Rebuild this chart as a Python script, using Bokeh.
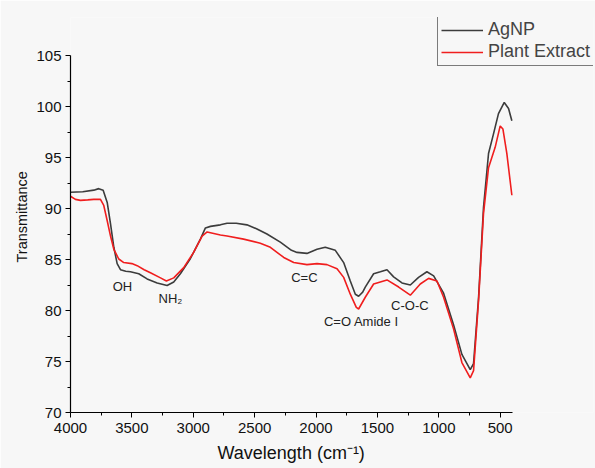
from bokeh.plotting import figure
from bokeh.models import (ColumnDataSource, Range1d, Legend, LegendItem,
                          FixedTicker, Title)
from bokeh.core.properties import value
from bokeh.embed import file_html
from bokeh.resources import INLINE

# ---- data ----
agnp_wn = [4000, 3900, 3810, 3770, 3734, 3701, 3674, 3647, 3620, 3593, 3550,
           3512, 3444, 3376, 3294, 3213, 3159, 3105, 3023, 2942, 2901, 2860,
           2779, 2725, 2650, 2563, 2481, 2400, 2291, 2200, 2155, 2074, 1992,
           1925, 1843, 1775, 1721, 1680, 1653, 1620, 1599, 1531, 1476, 1422,
           1368, 1300, 1232, 1165, 1097, 1042, 961, 880, 812, 744, 717, 676,
           636, 595, 555, 514, 467, 432, 405]
agnp_t = [91.6, 91.65, 91.8, 91.95, 91.8, 90.6, 88.5, 86.2, 84.6, 84.0, 83.85,
          83.8, 83.6, 83.1, 82.7, 82.45, 82.8, 83.6, 85.1, 87.0, 88.1, 88.25,
          88.4, 88.55, 88.55, 88.4, 88.0, 87.5, 86.7, 85.9, 85.7, 85.6, 86.0,
          86.2, 85.9, 84.7, 82.9, 81.6, 81.4, 81.8, 82.3, 83.6, 83.8, 84.0,
          83.3, 82.7, 82.5, 83.25, 83.8, 83.4, 81.7, 78.6, 75.7, 74.2, 74.8,
          81.3, 90.1, 95.4, 97.3, 99.3, 100.4, 99.8, 98.6]

plant_wn = [4000, 3960, 3919, 3860, 3810, 3756, 3729, 3701, 3674, 3647, 3607,
            3566, 3500, 3457, 3400, 3349, 3267, 3219, 3159, 3078, 2997, 2928,
            2887, 2779, 2725, 2590, 2454, 2372, 2263, 2182, 2074, 1992, 1911,
            1829, 1775, 1721, 1672, 1653, 1599, 1531, 1422, 1327, 1232, 1151,
            1083, 1015, 961, 880, 812, 744, 717, 676, 636, 595, 568, 541, 500,
            478, 446, 405]
plant_t = [91.2, 90.9, 90.8, 90.85, 90.9, 90.9, 90.3, 88.8, 87.3, 86.0, 85.05,
           84.7, 84.6, 84.4, 84.0, 83.7, 83.2, 82.9, 83.2, 84.2, 85.7, 87.3,
           87.7, 87.4, 87.3, 87.0, 86.6, 86.2, 85.2, 84.7, 84.5, 84.6, 84.5,
           84.1, 83.25, 81.6, 80.3, 80.15, 81.3, 82.6, 83.0, 82.3, 81.5, 82.6,
           83.15, 82.9, 81.3, 78.2, 74.9, 73.4, 74.1, 81.0, 89.5, 94.0, 95.0,
           96.0, 98.1, 97.8, 95.4, 91.3]

band_labels = ["OH", "NH\u2082", "C=C", "C=O Amide I", "C-O-C"]
band_x = [3577, 3186, 2095, 1631, 1236]
band_y = [82.4, 81.15, 83.2, 78.9, 80.5]

x_ticks = [4000, 3500, 3000, 2500, 2000, 1500, 1000, 500]
x_minor = [3750, 3250, 2750, 2250, 1750, 1250, 750]
y_ticks = [70, 75, 80, 85, 90, 95, 100, 105]
y_minor = [72.5, 77.5, 82.5, 87.5, 92.5, 97.5, 102.5]

FONT = "Liberation Sans"
BG = "#f7f7f7"

# axis extent (data) and the extra frame room used by the legend
X0, X1 = 4000, 400
Y0, Y1 = 70, 105
X_FRAME_END = -260     # frame reaches further right than the axis
Y_FRAME_END = 108.73   # frame reaches higher than the axis

p = figure(width=595, height=468, output_backend="svg", toolbar_location=None,
           x_range=Range1d(X0, X_FRAME_END), y_range=Range1d(Y0, Y_FRAME_END),
           min_border_left=70, min_border_right=2, min_border_top=17,
           min_border_bottom=56)
p.background_fill_color = BG
p.border_fill_color = BG
p.outline_line_color = None
p.xgrid.visible = False
p.ygrid.visible = False

r1 = p.line(agnp_wn, agnp_t, line_color="#3c3c3c", line_width=1.6)
r2 = p.line(plant_wn, plant_t, line_color="#f01e1e", line_width=1.6)

src = ColumnDataSource(dict(x=band_x, y=band_y, t=band_labels))
p.text(x="x", y="y", text="t", source=src, text_font=value(FONT),
       text_font_size="13px", text_align="center", text_baseline="middle",
       text_color="#222222")

for ax in (p.xaxis[0], p.yaxis[0]):
    ax.axis_line_color = "black"
    ax.axis_line_width = 1.2
    ax.major_tick_line_color = "black"
    ax.minor_tick_line_color = "black"
    ax.major_tick_out = 5
    ax.major_tick_in = 0
    ax.minor_tick_out = 3
    ax.minor_tick_in = 0
    ax.major_label_text_font = FONT
    ax.major_label_text_font_size = "15px"
    ax.major_label_text_color = "#111111"

p.xaxis.bounds = (X1, X0)
p.yaxis.bounds = (Y0, Y1)
p.xaxis.ticker = FixedTicker(ticks=x_ticks, minor_ticks=x_minor)
p.yaxis.ticker = FixedTicker(ticks=y_ticks, minor_ticks=y_minor)
p.xaxis.major_label_standoff = 5
p.yaxis.major_label_standoff = 4

xt = Title(text="Wavelength (cm\u207b\u00b9)", align="left", offset=147,
           text_font=FONT, text_font_size="18px", text_font_style="normal",
           text_color="#111111", standoff=10)
p.add_layout(xt, "below")
yt = Title(text="Transmittance", align="left", offset=150,
           text_font=FONT, text_font_size="14.5px", text_font_style="normal",
           text_color="#111111", standoff=8)
p.add_layout(yt, "left")

legend = Legend(items=[LegendItem(label="AgNP", renderers=[r1]),
                       LegendItem(label="Plant Extract", renderers=[r2])],
                location=(367, 346))
legend.border_line_color = "black"
legend.border_line_width = 1
legend.background_fill_color = BG
legend.background_fill_alpha = 1
legend.label_text_font = FONT
legend.label_text_font_size = "18px"
legend.glyph_width = 42
legend.glyph_height = 20
legend.label_height = 20
legend.label_standoff = 5
legend.padding = 3
legend.spacing = 1
legend.margin = 0
p.add_layout(legend, "center")

open("out.html", "w").write(file_html(p, INLINE))
